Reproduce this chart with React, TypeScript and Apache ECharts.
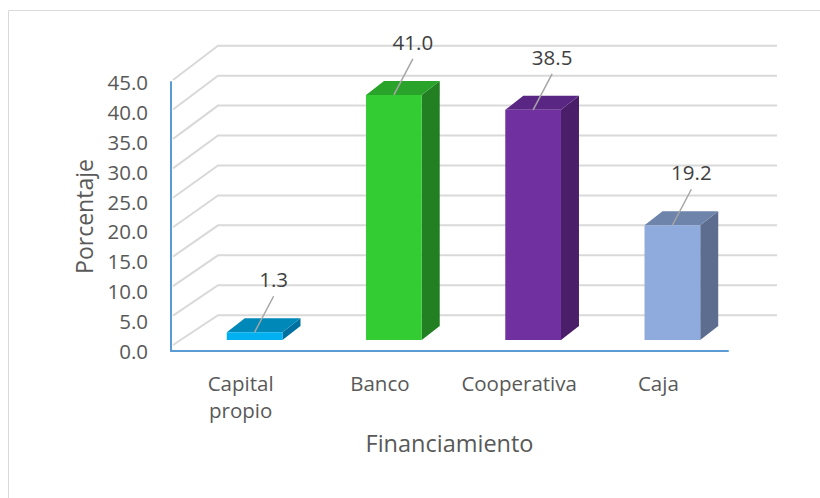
import React, { useEffect, useRef } from "react";
import * as echarts from "echarts";

const CATEGORIES = ["Capital propio", "Banco", "Cooperativa", "Caja"];
const VALUES = [1.3, 41.0, 38.5, 19.2];
const Y_TICKS = [0, 5, 10, 15, 20, 25, 30, 35, 40, 45];

const FRONT_COLORS = ["#00B0F0", "#33CC33", "#7030A0", "#8FAADC"];
const TOP_COLORS = ["#0088B8", "#29A329", "#5A2683", "#6E84AB"];
const SIDE_COLORS = ["#0070A0", "#228022", "#4A1E69", "#5D6D8F"];

const FONT = "'Open Sans', 'Noto Sans', sans-serif";

export default function App() {
  const ref = useRef<HTMLDivElement>(null);

  useEffect(() => {
    if (!ref.current) return;
    const chart = echarts.init(ref.current, null, { renderer: "svg" });

    const BAR_DX = 14;
    const BAR_DY = -11;
    const DEPTH_X = 18;
    const DEPTH_Y = -14;

    const option: any = {
      animation: false,
      backgroundColor: "#ffffff",
      graphic: [
        {
          type: "rect",
          shape: { x: 8.5, y: 10.5, width: 900, height: 600 },
          style: { fill: "none", stroke: "#D9D9D9", lineWidth: 1 },
          silent: true,
          z: -10,
        },
      ],
      grid: { left: 171, top: 82, width: 557, height: 269 },
      xAxis: {
        type: "category",
        data: CATEGORIES,
        name: "Financiamiento",
        nameLocation: "middle",
        nameGap: 80,
        nameTextStyle: { fontSize: 23.5, color: "#595959", fontFamily: FONT },
        axisLine: { show: true, lineStyle: { color: "#5B9BD5", width: 2 } },
        axisTick: { show: false },
        axisLabel: {
          interval: 0,
          fontSize: 20.5,
          color: "#595959",
          fontFamily: FONT,
          lineHeight: 27,
          margin: 18,
          formatter: (v: string) => v.replace(" ", "\n"),
        },
        splitLine: { show: false },
      },
      yAxis: {
        type: "value",
        min: 0,
        max: 45,
        interval: 5,
        name: "Porcentaje",
        nameLocation: "middle",
        nameGap: 76,
        nameTextStyle: { fontSize: 23, color: "#595959", fontFamily: FONT },
        axisLine: { show: true, lineStyle: { color: "#5B9BD5", width: 2 } },
        axisTick: { show: false },
        splitLine: { show: false },
        axisLabel: {
          fontSize: 20.5,
          color: "#595959",
          fontFamily: FONT,
          margin: 23,
          padding: [8, 0, 0, 0],
          formatter: (v: number) => v.toFixed(1),
        },
      },
      series: [
        {
          type: "custom",
          silent: true,
          clip: false,
          z: 1,
          data: Y_TICKS.map((v) => [0, v]),
          encode: { x: 0, y: 1 },
          renderItem: (params: any, api: any) => {
            const cs = params.coordSys;
            const v = api.value(1);
            const y = api.coord([0, v])[1];
            const t = (y - cs.y) / cs.height;
            const fy = cs.y - 2 + t * (cs.height - 4);
            const by = cs.y - 36.3 + t * (cs.height + 0.5);
            return {
              type: "polyline",
              shape: {
                points: [
                  [cs.x + 2, fy],
                  [cs.x + 47, by],
                  [cs.x + cs.width + 49, by],
                ],
              },
              style: { stroke: "#D9D9D9", lineWidth: 2, fill: null },
            };
          },
        },
        {
          type: "custom",
          clip: false,
          z: 3,
          data: VALUES.map((v, i) => [i, v]),
          encode: { x: 0, y: 1 },
          renderItem: (params: any, api: any) => {
            const i = api.value(0);
            const v = api.value(1);
            const base = api.coord([i, 0]);
            const top = api.coord([i, v]);
            const bw = api.size([1, 0])[0] * 0.4;
            const cx = base[0] + BAR_DX;
            const fx = cx - bw / 2;
            const fy0 = base[1] + BAR_DY;
            const fyT = top[1] + BAR_DY;
            const idx = params.dataIndex;
            return {
              type: "group",
              children: [
                {
                  type: "polygon",
                  shape: {
                    points: [
                      [fx + bw, fyT],
                      [fx + bw + DEPTH_X, fyT + DEPTH_Y],
                      [fx + bw + DEPTH_X, fy0 + DEPTH_Y],
                      [fx + bw, fy0],
                    ],
                  },
                  style: { fill: SIDE_COLORS[idx] },
                },
                {
                  type: "polygon",
                  shape: {
                    points: [
                      [fx, fyT],
                      [fx + bw, fyT],
                      [fx + bw + DEPTH_X, fyT + DEPTH_Y],
                      [fx + DEPTH_X, fyT + DEPTH_Y],
                    ],
                  },
                  style: { fill: TOP_COLORS[idx] },
                },
                {
                  type: "rect",
                  shape: { x: fx, y: fyT, width: bw, height: fy0 - fyT },
                  style: { fill: FRONT_COLORS[idx] },
                },
                {
                  type: "line",
                  shape: { x1: cx, y1: fyT, x2: cx + 19, y2: fyT - 36 },
                  style: { stroke: "#A6A6A6", lineWidth: 1.5 },
                },
                {
                  type: "text",
                  style: {
                    text: v.toFixed(1),
                    x: cx + 19,
                    y: fyT - 53,
                    align: "center",
                    verticalAlign: "middle",
                    fontSize: 20.5,
                    fontFamily: FONT,
                    fill: "#404040",
                  },
                },
              ],
            };
          },
        },
      ],
    };

    chart.setOption(option);
    return () => chart.dispose();
  }, []);

  return (
    <div
      ref={ref}
      style={{ position: "fixed", left: 0, top: 0, width: 820, height: 498 }}
    />
  );
}
